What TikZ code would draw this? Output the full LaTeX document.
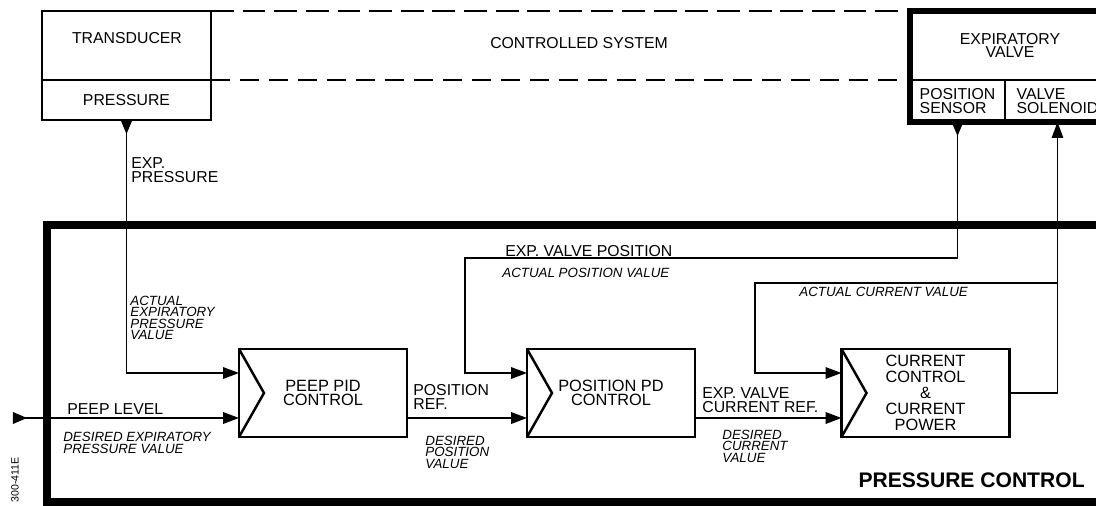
\documentclass[tikz,border=0pt]{standalone}
\usepackage{fontspec}
\setmainfont{Liberation Sans}
\usetikzlibrary{arrows.meta}

\begin{document}
\begin{tikzpicture}[
  cell/.style={draw, line width=1.2pt, inner sep=0pt, outer sep=0pt, align=left, font=\fontsize{9}{7.6}\selectfont},
  ctrl/.style={draw, line width=1.6pt, minimum width=3.36cm, minimum height=1.76cm, inner sep=0pt, outer sep=0pt, align=center, font=\fontsize{9.3}{7.8}\selectfont},
  lbl/.style={anchor=west, inner sep=0pt, align=left, font=\fontsize{9}{7.6}\selectfont},
  note/.style={anchor=west, inner sep=0pt, align=left, font=\fontsize{7.6}{6.6}\selectfont\itshape},
  sig/.style={-{Triangle[length=9pt,width=6.5pt]}, line width=1.1pt},
  back/.style={line width=0.8pt},
  tap/.style={{Triangle[reversed,length=8pt,width=6.5pt]}-{Triangle[length=9pt,width=6.5pt]}}
]
\clip (0,0) rectangle (21.92,10.10);

% controlled system
\node[cell, minimum width=3.38cm, minimum height=1.38cm] (trans) at (2.53,9.19) {};
\node[cell, minimum width=3.38cm, minimum height=0.80cm] (press) at (2.53,8.10) {PRESSURE};
\node[lbl, anchor=center] (transtxt) at (2.54,9.34) {TRANSDUCER};
\node[cell, align=center, minimum width=4cm, minimum height=1.38cm] (valve) at (20.20,9.19) {EXPIRATORY\\VALVE};
\node[cell, minimum width=1.9cm, minimum height=0.84cm] (sens) at (19.15,8.08) {POSITION\\SENSOR};
\node[cell, minimum width=2.1cm, minimum height=0.84cm] (sol) at (21.15,8.08) {VALVE\\SOLENOID};
\draw[line width=3pt] (valve.north west) rectangle (sol.south east);
\draw[line width=1.7pt, dash pattern=on 13pt off 5pt] (trans.north east) -- (valve.north west);
\draw[line width=1.1pt, dash pattern=on 11pt off 5.5pt] (trans.south east) -- (valve.south west);
\node[lbl, anchor=center] (sys) at (11.58,9.24) {CONTROLLED SYSTEM};

% pressure control
\node[draw, line width=4pt, minimum width=21.26cm, minimum height=5.54cm, inner sep=0pt] (pctrl) at (11.57,2.83) {};
\node[ctrl] (peep) at (6.46,2.24) {PEEP PID\\CONTROL};
\node[ctrl] (pospd) at (12.22,2.24) {POSITION PD\\CONTROL};
\node[ctrl, font=\fontsize{9.3}{9.2}\selectfont] (cur) at (18.51,2.24) {CURRENT\\CONTROL\\\&\\CURRENT\\POWER};
\draw[line width=1.4pt] (peep.north west) -- ([xshift=0.5cm]peep.west) -- (peep.south west);
\draw[line width=1.4pt] (pospd.north west) -- ([xshift=0.5cm]pospd.west) -- (pospd.south west);
\draw[line width=1.4pt] (cur.north west) -- ([xshift=0.5cm]cur.west) -- (cur.south west);

\coordinate (inp) at (0.26,1.74);
\coordinate (fbp) at (9.30,4.94);
\coordinate (fbc) at (15.10,4.44);

% signals
\draw[back, tap] (press.south) |- ([yshift=0.4cm]peep.west);
\draw[sig, tap] (inp) -- ([yshift=-0.5cm]peep.west);
\draw[sig] ([yshift=-0.5cm]peep.east) -- ([yshift=-0.5cm]pospd.west);
\draw[back, tap] (sens.south) |- (fbp) |- ([yshift=0.4cm]pospd.west);
\draw[sig] ([yshift=-0.5cm]pospd.east) -- ([yshift=-0.5cm]cur.west);
\draw[back, -{Triangle[length=9pt,width=6.5pt]}] (cur.east) -| (sol.south);
\draw[back, -{Triangle[length=9pt,width=6.5pt]}] (sol.south |- fbc) -- (fbc) |- ([yshift=0.4cm]cur.west);

% labels
\node[lbl] (expp) at (2.62,6.70) {EXP.\\PRESSURE};
\node[note] (actp) at (2.60,3.74) {ACTUAL\\EXPIRATORY\\PRESSURE\\VALUE};
\node[lbl] (peeplvl) at (1.34,1.92) {PEEP LEVEL};
\node[note] (desp) at (1.26,1.24) {DESIRED EXPIRATORY\\PRESSURE VALUE};
\node[lbl] (posref) at (8.26,2.16) {POSITION\\REF.};
\node[note] (despos) at (8.50,1.06) {DESIRED\\POSITION\\VALUE};
\node[lbl] (vpos) at (10.10,5.08) {EXP. VALVE POSITION};
\node[note] (actpos) at (10.04,4.64) {ACTUAL POSITION VALUE};
\node[lbl] (curref) at (14.04,2.10) {EXP. VALVE\\CURRENT REF.};
\node[note] (descur) at (14.44,1.18) {DESIRED\\CURRENT\\VALUE};
\node[note] (actcur) at (15.98,4.26) {ACTUAL CURRENT VALUE};
\node[anchor=east, inner sep=0pt, font=\fontsize{12}{12}\selectfont\bfseries] (pctxt) at (21.70,0.50) {PRESSURE CONTROL};
\node[rotate=90, inner sep=0pt, font=\fontsize{6}{6}\selectfont] (code) at (0.30,0.50) {300-411E};
\end{tikzpicture}
\end{document}
